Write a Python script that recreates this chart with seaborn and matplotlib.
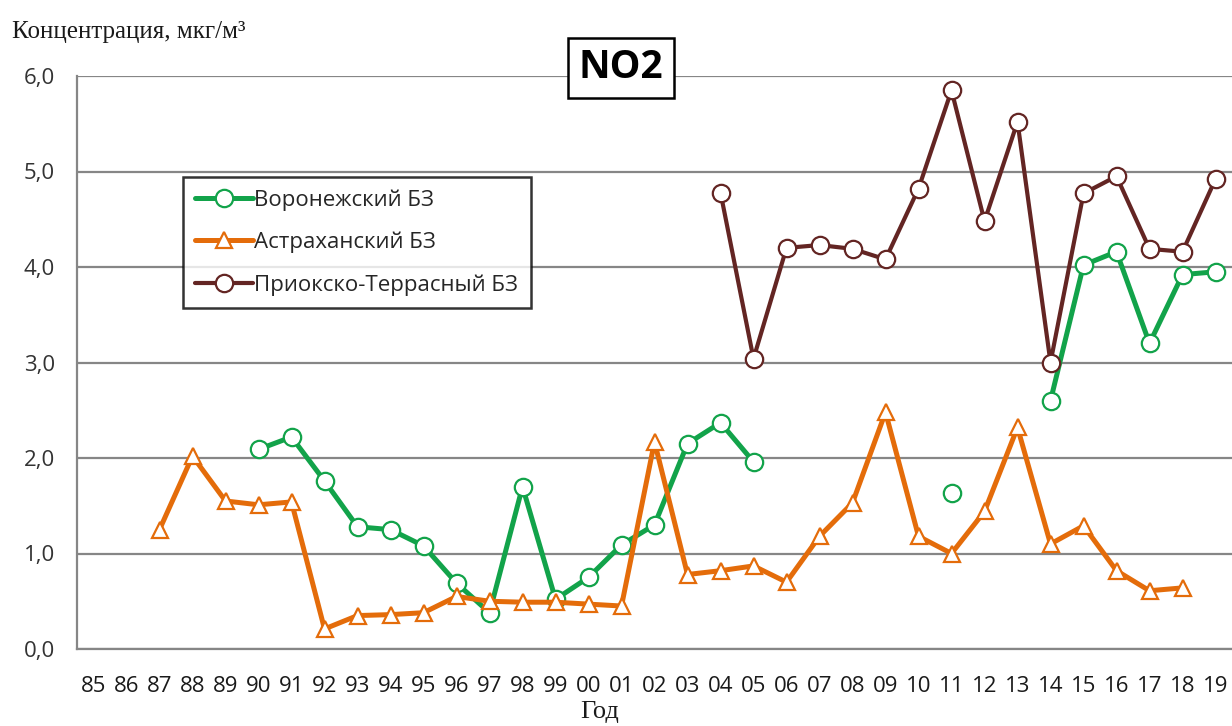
import numpy as np
import pandas as pd
import seaborn as sns
import matplotlib.pyplot as plt
import matplotlib.ticker as mticker

years = ['85', '86', '87', '88', '89', '90', '91', '92', '93', '94', '95', '96',
         '97', '98', '99', '00', '01', '02', '03', '04', '05', '06', '07', '08',
         '09', '10', '11', '12', '13', '14', '15', '16', '17', '18', '19']
nan = np.nan
voronezh = [nan, nan, nan, nan, nan, 2.09, 2.22, 1.76, 1.28, 1.25, 1.08, 0.69,
            0.38, 1.70, 0.52, 0.75, 1.09, 1.30, 2.15, 2.37, 1.96, nan, nan, nan,
            nan, nan, 1.63, nan, nan, 2.60, 4.02, 4.16, 3.20, 3.92, 3.95]
astrakhan = [nan, nan, 1.25, 2.02, 1.55, 1.51, 1.54, 0.21, 0.35, 0.36, 0.38, 0.55,
             0.50, 0.49, 0.49, 0.47, 0.45, 2.17, 0.78, 0.82, 0.87, 0.70, 1.18, 1.53,
             2.48, 1.18, 1.00, 1.44, 2.32, 1.10, 1.29, 0.82, 0.61, 0.64, nan]
prioksko = [nan, nan, nan, nan, nan, nan, nan, nan, nan, nan, nan, nan,
            nan, nan, nan, nan, nan, nan, nan, 4.78, 3.04, 4.20, 4.23, 4.19,
            4.08, 4.82, 5.85, 4.48, 5.52, 3.00, 4.77, 4.95, 4.19, 4.16, 4.92]

series_names = ['Воронежский БЗ', 'Астраханский БЗ', 'Приокско-Террасный БЗ']
series_vals = [voronezh, astrakhan, prioksko]
colors = ['#12A34A', '#E46C0A', '#632523']
markers = ['o', '^', 'o']


def to_frame(vals):
    # split the series into runs so lines break where data is missing
    v = pd.Series(vals, dtype=float)
    seg = v.isna().cumsum()
    df = pd.DataFrame({'idx': np.arange(len(vals)), 'val': v, 'seg': seg})
    return df.dropna()


sns.set_style('white')
plt.rcParams['font.family'] = ['Open Sans', 'DejaVu Sans']

fig = plt.figure(figsize=(12.32, 7.26), dpi=100)
ax = fig.add_axes([77 / 1232, 1 - 649 / 726, 1 - 77 / 1232, (649 - 76) / 726])

for name, vals, c, m in zip(series_names, series_vals, colors, markers):
    df = to_frame(vals)
    lw = 3.0 if name.startswith('Приокско') else 3.6
    sns.lineplot(data=df, x='idx', y='val', units='seg', estimator=None,
                 ax=ax, color=c, linewidth=lw, marker=m, markersize=12.5 if m == 'o' else 12,
                 markerfacecolor='white', markeredgecolor=c, markeredgewidth=1.6,
                 label=name, legend=False)

ax.set_xlim(-0.5, len(years) - 0.5)
ax.set_ylim(0, 6)
ax.set_xlabel('')
ax.set_ylabel('')

ax.set_xticks(np.arange(len(years)))
ax.set_xticklabels(years)
ax.set_xticks(np.arange(len(years) + 1) - 0.5, minor=True)
ax.tick_params(axis='x', which='major', length=0, pad=19.5, labelsize=16, labelcolor='#1a1a1a')
ax.tick_params(axis='x', which='minor', length=6, width=1.5, color='#868686', direction='out')

ax.set_yticks(np.arange(0, 7, 1))
ax.yaxis.set_major_formatter(mticker.FuncFormatter(lambda v, p: f'{v:.1f}'.replace('.', ',')))
ax.tick_params(axis='y', length=7, width=1.5, color='#868686', pad=9, labelsize=16, labelcolor='#333333')

ax.grid(axis='y', color='#868686', linewidth=1.6)
ax.grid(axis='x', visible=False)
ax.set_axisbelow(True)
for s in ['top', 'right']:
    ax.spines[s].set_visible(False)
for s in ['left', 'bottom']:
    ax.spines[s].set_color('#868686')
    ax.spines[s].set_linewidth(1.6)

# legend (one entry per series)
handles, labels = ax.get_legend_handles_labels()
uniq = dict(zip(labels, handles))
leg = ax.legend(list(uniq.values()), list(uniq.keys()), loc='upper left',
                bbox_to_anchor=(0.092, 0.824), borderaxespad=0, fontsize=16,
                frameon=True, fancybox=False, handlelength=2.6, handletextpad=0.05,
                labelspacing=0.95, borderpad=0.55)
leg.get_frame().set_edgecolor('black')
leg.get_frame().set_linewidth(1.8)

# title in a box
fig.text(621 / 1232, 1 - 68 / 726, 'NO2', ha='center', va='center', fontsize=28,
         fontweight='bold', color='black',
         bbox=dict(boxstyle='square,pad=0.28', facecolor='white', edgecolor='black', linewidth=1.8))

# axis captions (serif)
fig.text(12 / 1232, 1 - 38 / 726, 'Концентрация, мкг/м³', ha='left', va='baseline',
         fontsize=18, family=['Liberation Serif', 'DejaVu Serif'], color='#1a1a1a')
fig.text(600 / 1232, 1 - 718 / 726, 'Год', ha='center', va='baseline',
         fontsize=19, family=['Liberation Serif', 'DejaVu Serif'], color='#1a1a1a')

fig.savefig('out.png', dpi=100)
